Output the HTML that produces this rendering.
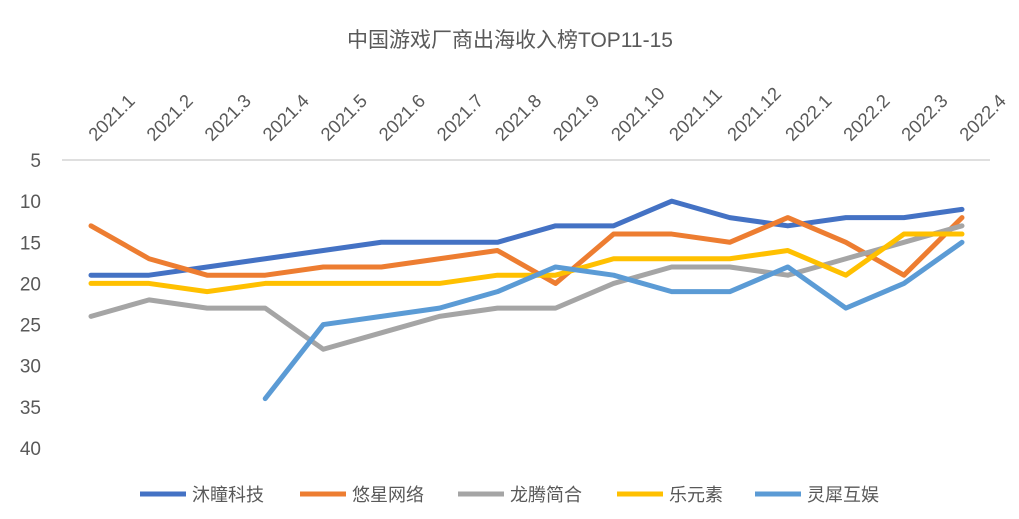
<!DOCTYPE html>
<html><head><meta charset="utf-8"><style>
body{margin:0;background:#fff;font-family:"Liberation Sans","Noto Sans CJK SC",sans-serif;}
</style></head><body>
<svg width="1019" height="514" xmlns="http://www.w3.org/2000/svg" id="svg">
<rect width="1019" height="514" fill="#fff"/>
<text x="510" y="47" text-anchor="middle" font-size="21" fill="#595959" font-family="Liberation Sans, Noto Sans CJK SC, sans-serif">中国游戏厂商出海收入榜TOP11-15</text>
<g id="axes"></g><g id="series"></g><g id="legend"></g>
</svg>
<script>
const categories=["2021.1","2021.2","2021.3","2021.4","2021.5","2021.6","2021.7","2021.8","2021.9","2021.10","2021.11","2021.12","2022.1","2022.2","2022.3","2022.4"];
const yTicks=[5,10,15,20,25,30,35,40];
const seriesNames=["沐瞳科技","悠星网络","龙腾简合","乐元素","灵犀互娱"];
const seriesColors=["#4472C4","#ED7D31","#A5A5A5","#FFC000","#5B9BD5"];
const muTong=[19,19,18,17,16,15,15,15,13,13,10,12,13,12,12,11];
const youXing=[13,17,19,19,18,18,17,16,20,14,14,15,12,15,19,12];
const longTeng=[24,22,23,23,28,26,24,23,23,20,18,18,19,17,15,13];
const leYuan=[20,20,21,20,20,20,20,19,19,17,17,17,16,19,14,14];
const lingXi=[null,null,null,34,25,24,23,21,18,19,21,21,18,23,20,15];
const allSeries=[muTong,youXing,longTeng,leYuan,lingXi];
const NS="http://www.w3.org/2000/svg";
const x=i=>91+i*(962-91)/(categories.length-1);
const y=v=>160+(v-5)*(448-160)/35;
function mk(tag,attrs,parent){const e=document.createElementNS(NS,tag);for(const k in attrs)e.setAttribute(k,attrs[k]);parent.appendChild(e);return e;}
const axes=document.getElementById('axes');
const ax=mk('line',{x1:62,x2:990,y1:160,y2:160,stroke:'#BFBFBF','stroke-width':1},axes);


yTicks.forEach(t=>{const e=mk('text',{x:41,y:y(t)+7,'text-anchor':'end','font-size':19,fill:'#595959'},axes);e.textContent=t;

});
categories.forEach((c,i)=>{const e=mk('text',{x:0,y:0,'font-size':18.5,fill:'#595959',transform:`translate(${x(i)+5},${142}) rotate(-45)`},axes);e.textContent=c;

});
const sg=document.getElementById('series');
allSeries.forEach((s,k)=>{let d='';let pen=false;s.forEach((v,i)=>{if(v==null){pen=false;return;}d+=(pen?'L':'M')+x(i)+','+y(v);pen=true;});
const p=mk('path',{d:d,fill:'none',stroke:seriesColors[k],'stroke-width':5,'stroke-linejoin':'round','stroke-linecap':'round'},sg);

});
const lg=document.getElementById('legend');
const lx=[140,300,458,617,755];
seriesNames.forEach((n,k)=>{const g=mk('g',{},lg);


mk('line',{x1:lx[k],x2:lx[k]+46,y1:494,y2:494,stroke:seriesColors[k],'stroke-width':5},g);
const t=mk('text',{x:lx[k]+52,y:501,'font-size':18,fill:'#595959'},g);t.textContent=n;});
</script>
</body></html>
